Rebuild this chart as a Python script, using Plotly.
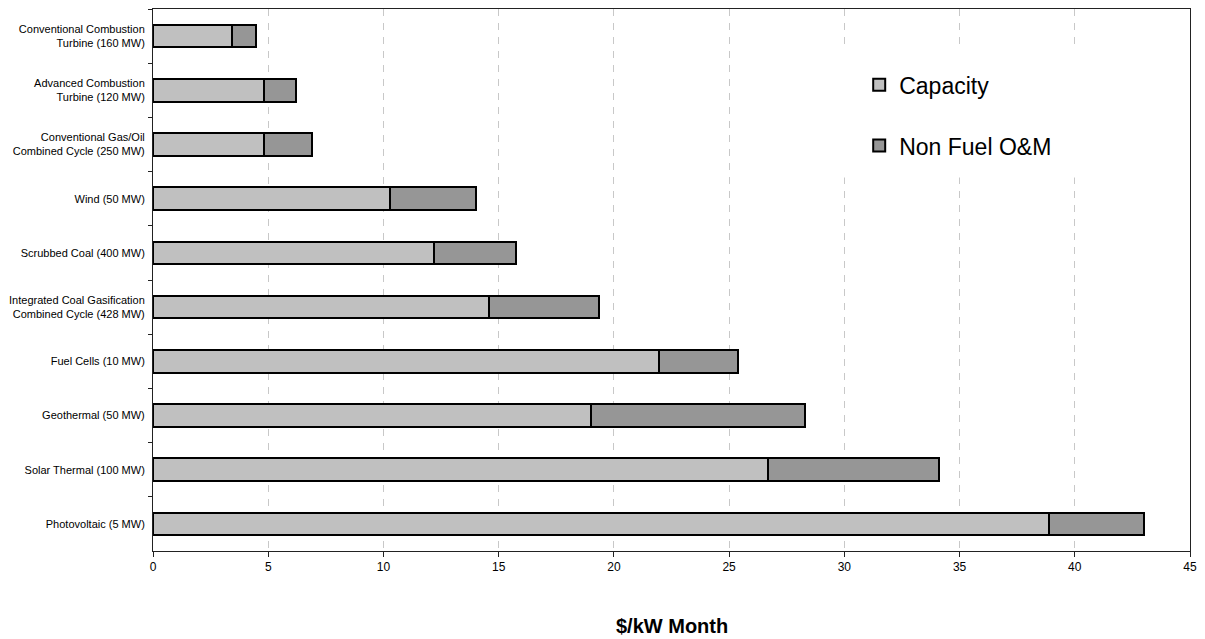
import plotly.graph_objects as go

categories = [
    "Conventional Combustion<br>Turbine (160 MW)",
    "Advanced Combustion<br>Turbine (120 MW)",
    "Conventional Gas/Oil<br>Combined Cycle (250 MW)",
    "Wind (50 MW)",
    "Scrubbed Coal (400 MW)",
    "Integrated Coal Gasification<br>Combined Cycle (428 MW)",
    "Fuel Cells (10 MW)",
    "Geothermal (50 MW)",
    "Solar Thermal (100 MW)",
    "Photovoltaic (5 MW)",
]
capacity = [3.42, 4.80, 4.80, 10.30, 12.19, 14.56, 21.96, 19.00, 26.68, 38.87]
nonfuel_om = [1.04, 1.41, 2.11, 3.71, 3.58, 4.81, 3.41, 9.28, 7.43, 4.15]

fig = go.Figure()
fig.add_trace(go.Bar(
    y=categories, x=capacity, orientation="h", name="Capacity",
    legendgroup="a",
    marker=dict(color="#c0c0c0", line=dict(color="#000000", width=2)),
))
fig.add_trace(go.Bar(
    y=categories, x=nonfuel_om, orientation="h", name="Non Fuel O&M",
    legendgroup="b",
    marker=dict(color="#969696", line=dict(color="#000000", width=2)),
))

fig.update_layout(
    width=1205, height=639,
    barmode="stack", bargap=0.58,
    paper_bgcolor="white", plot_bgcolor="white",
    margin=dict(l=153, r=12, t=8, b=88),
    font=dict(family="Liberation Sans, Arial, sans-serif", color="#000000"),
    legend=dict(
        x=0.681, y=0.9, xanchor="left", yanchor="top",
        font=dict(size=23, color="#000000"),
        traceorder="grouped", tracegroupgap=28,
        bgcolor="rgba(0,0,0,0)",
    ),
    shapes=[dict(
        type="rect", xref="paper", yref="paper",
        x0=0.66, x1=0.90, y0=0.689, y1=0.928,
        fillcolor="white", line=dict(width=0), layer="above",
    )],
    annotations=[dict(
        text="<b>$/kW Month</b>", x=0.5, xref="paper", y=-0.138, yref="paper",
        xanchor="center", yanchor="middle", showarrow=False,
        font=dict(size=20, color="#000000"),
    )],
)

fig.update_xaxes(
    range=[0, 45], dtick=5, tick0=0,
    showgrid=True, gridcolor="#c8c8c8", griddash="7px,7px", gridwidth=1,
    showline=True, linecolor="#222222", linewidth=1, mirror=True,
    ticks="outside", ticklen=5, tickcolor="#222222",
    tickfont=dict(size=12), zeroline=False,
)
fig.update_yaxes(
    autorange="reversed",
    showline=True, linecolor="#222222", linewidth=1, mirror=True,
    ticks="outside", ticklen=4, tickcolor="#222222", tickson="boundaries",
    tickfont=dict(size=11), showgrid=False, ticklabelstandoff=5,
)

fig.write_html(
    "out.html",
    config={"displayModeBar": False},
    post_script="document.body.style.margin='0';document.body.style.overflow='hidden';",
)
